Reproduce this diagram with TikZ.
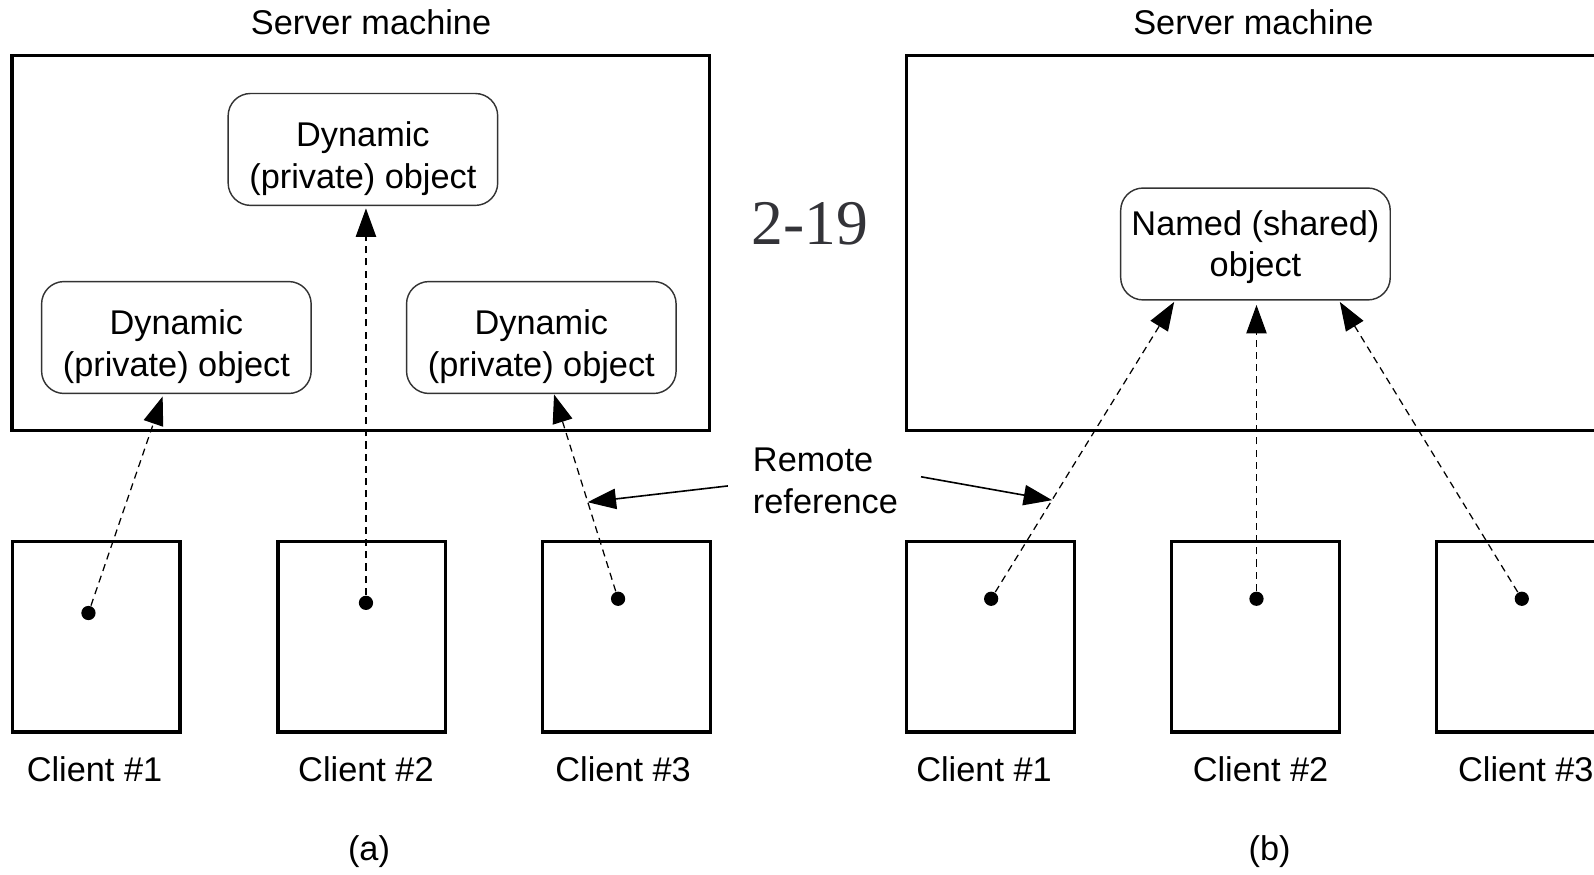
\documentclass[tikz,border=0pt]{standalone}
\usepackage{fontspec}
\setmainfont{Liberation Sans}
\newfontfamily\slidefont{Liberation Serif}
\usetikzlibrary{arrows.meta}
\definecolor{slidegray}{RGB}{51,51,56}
\newcommand{\objtop}[1]{\rule{0pt}{#1}}
\begin{document}
\begin{tikzpicture}[x=0.01cm,y=-0.01cm,
	font=\fontsize{9.6}{11.7}\selectfont,
	machine/.style={draw,line width=0.85pt,inner sep=0pt},
	server/.style={machine,minimum width=6.86cm,minimum height=3.68cm},
	client/.style={machine,minimum width=1.65cm,minimum height=1.87cm},
	object/.style={draw=black!80,line width=0.4pt,rounded corners=0.22cm,
		minimum width=2.65cm,minimum height=1.1cm,inner sep=0pt,align=center},
	dot/.style={circle,fill,inner sep=0pt,minimum size=0.14cm},
	ref/.style={-{Triangle[length=0.28cm,width=0.2cm]},
		dash pattern=on 0.07cm off 0.05cm,line width=0.35pt},
	pointer/.style={-{Triangle[length=0.28cm,width=0.2cm]},line width=0.45pt}]
	%\draw[help lines] (0,0) grid (1568,860);
	\useasboundingbox (0,0) rectangle (1568,860);
	\clip (0,0) rectangle (1568,860);
	
	% (a)
	\node[server] (srvA) at (355,239) {};
	\node at (365,22) {Server machine};
	\node[object] (objT) at (357,147) {\objtop{12pt}Dynamic\\(private) object};
	\node[object] (objL) at (173.5,332) {\objtop{12pt}Dynamic\\(private) object};
	\node[object] (objR) at (532.5,332) {\objtop{12pt}Dynamic\\(private) object};
	
	\node[client] (clA1) at (94.5,626.5) {};
	\node[client] (clA2) at (356,626.5) {};
	\node[client] (clA3) at (616.5,626.5) {};
	\node at (93,757) {Client \#1};
	\node at (360,757) {Client \#2};
	\node at (613,757) {Client \#3};
	\node[dot] (dA1) at (87,603) {};
	\node[dot] (dA2) at (360,593) {};
	\node[dot] (dA3) at (608,589) {};
	\coordinate (tA1) at (160,390);
	\coordinate (tA2) at (360,205);
	\coordinate (tA3) at (545,388);
	\draw[ref] (dA1) -- (tA1);
	\draw[ref] (dA2) -- (tA2);
	\draw[ref] (dA3) -- (tA3);
	\node at (363,838) {(a)};
	
	% (b)
	\node[server,minimum width=7.08cm] (srvB) at (1246,239) {};
	\node at (1233,22) {Server machine};
	\node[object] (objN) at (1235,240) {\objtop{8.7pt}Named (shared)\\object};
	
	\node[client] (clB1) at (974.5,626.5) {};
	\node[client] (clB2) at (1235,626.5) {};
	\node[client] (clB3) at (1496,626.5) {};
	\node at (968,757) {Client \#1};
	\node at (1240,757) {Client \#2};
	\node at (1501,757) {Client \#3};
	\node[dot] (dB1) at (975,589) {};
	\node[dot] (dB2) at (1236,589) {};
	\node[dot] (dB3) at (1497,589) {};
	\coordinate (tB1) at (1155,297);
	\coordinate (tB2) at (1236,300);
	\coordinate (tB3) at (1318,297);
	\draw[ref] (dB1) -- (tB1);
	\draw[ref] (dB2) -- (tB2);
	\draw[ref] (dB3) -- (tB3);
	\node at (1249,838) {(b)};
	
	% labels in the middle
	\node[font=\slidefont\fontsize{17.8}{20}\selectfont,text=slidegray] (slide) at (797,220) {2-19};
	\node[anchor=west,align=left,inner sep=0pt] (remote) at (740,473) {Remote\\reference};
	\coordinate (pL) at (716,478);
	\coordinate (pR) at (906,469);
	\coordinate (hL) at (578,494);
	\coordinate (hR) at (1035,492);
	\draw[pointer] (pL) -- (hL);
	\draw[pointer] (pR) -- (hR);
\end{tikzpicture}
\end{document}
